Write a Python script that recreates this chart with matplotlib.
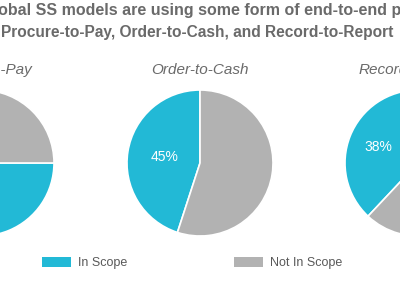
import matplotlib.pyplot as plt
from matplotlib.patches import Patch

plt.rcParams['font.family'] = ['Liberation Sans', 'DejaVu Sans']

# data
processes = ["Procure-to-Pay", "Order-to-Cash", "Record-to-Report"]
in_scope = [75, 45, 38]
not_in_scope = [25, 55, 62]
legend_labels = ["In Scope", "Not In Scope"]
title_lines = ["Most global SS models are using some form of end-to-end process",
               "Procure-to-Pay, Order-to-Cash, and Record-to-Report"]

blue = '#22b9d6'
gray = '#b2b2b2'
text_gray = '#6a6a6a'

W, H = 400, 284
fig = plt.figure(figsize=(W / 100, H / 100), dpi=100)

# pie centres in pixels (chart is cropped on both sides)
centers_x = [-19, 200, 418]
center_y = 163
r = 73
pct_dist = [0.5, 0.49, 0.58]

for i, name in enumerate(processes):
    cx = centers_x[i]
    ax = fig.add_axes([(cx - r) / W, (H - center_y - r) / H, 2 * r / W, 2 * r / H])
    wedges, texts, autotexts = ax.pie([in_scope[i], not_in_scope[i]], colors=[blue, gray],
                                      startangle=90, counterclock=True,
                                      autopct='%d%%', pctdistance=pct_dist[i],
                                      wedgeprops=dict(edgecolor='white', linewidth=1.2))
    for t in autotexts:
        t.set_color('white')
        t.set_fontsize(10)
    autotexts[1].set_visible(False)
    ax.set_xlim(-1.0, 1.0)
    ax.set_ylim(-1.0, 1.0)
    ax.set_aspect('equal')
    fig.text(cx / W, 1 - 70 / H, name, ha='center', va='center', fontsize=11,
             style='italic', color=text_gray)

fig.text(0.493, 1 - 11 / H, title_lines[0], ha='center', va='center', fontsize=11.5,
         fontweight='bold', color=text_gray)
fig.text(0.493, 1 - 33 / H, title_lines[1], ha='center', va='center', fontsize=11.2,
         fontweight='bold', color=text_gray)

handles = [Patch(facecolor=blue, edgecolor='none'), Patch(facecolor=gray, edgecolor='none')]
fig.legend(handles, legend_labels, loc='center', bbox_to_anchor=(0.48, 1 - 263 / H),
           ncol=2, frameon=False, fontsize=9, labelcolor='#595959',
           handlelength=2.3, handleheight=0.8, columnspacing=8.6, handletextpad=0.55)

fig.savefig('out.png', dpi=100)
